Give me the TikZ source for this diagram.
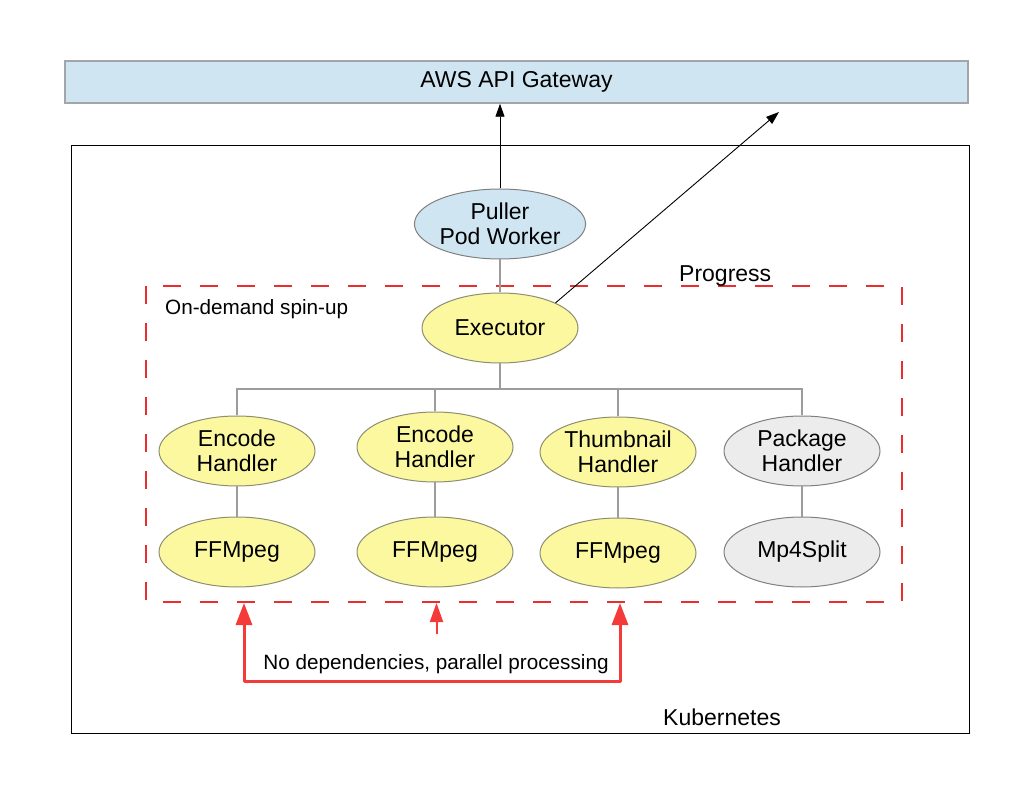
\documentclass[tikz,border=0pt]{standalone}
\usepackage{fontspec}
\setmainfont{Liberation Sans}
\usetikzlibrary{arrows.meta,shapes.geometric}
\definecolor{gwblue}{HTML}{CFE5F2}
\definecolor{gwborder}{HTML}{A2A6AA}
\definecolor{hyellow}{HTML}{FCF8A0}
\definecolor{hgray}{HTML}{ECECEC}
\definecolor{eborder}{HTML}{8E8E70}
\definecolor{linegray}{HTML}{9C9C9C}
\definecolor{dred}{HTML}{E82E2E}
\definecolor{ared}{HTML}{F53A3A}
\tikzset{
  bigtxt/.style={font=\fontsize{23}{25}\selectfont},
  smalltxt/.style={font=\fontsize{20.7}{24}\selectfont},
  proc/.style={ellipse, draw=eborder, line width=1pt, fill=hyellow,
    minimum width=156pt, minimum height=70pt, inner sep=0pt, align=center, bigtxt},
  procgray/.style={proc, fill=hgray, draw=gray},
  procblue/.style={proc, fill=gwblue, draw=gray},
  tree/.style={draw=linegray, line width=1.1pt},
  blackarrow/.style={draw=black, line width=0.9pt, -{Triangle[length=13pt,width=9pt]}},
  redarrow/.style={draw=ared, line width=3pt, line join=round,
    {Triangle[length=22pt,width=16pt]}-{Triangle[length=22pt,width=16pt]}},
  redsmall/.style={draw=ared, line width=2pt, -{Triangle[length=19pt,width=13pt]}}
}
\begin{document}
\begin{tikzpicture}[x=1pt,y=-1pt]
\useasboundingbox (0,0) rectangle (1034,799);
\fill[white] (0,0) rectangle (1034,799);
% gateway
\node[draw=gwborder, line width=1.5pt, fill=gwblue, minimum width=903pt, minimum height=42pt,
  inner sep=0pt, bigtxt] (gw) at (516.5,82) {AWS API Gateway};
% kubernetes box
\draw[black, line width=1pt] (71,146) rectangle (969,733);
\node[bigtxt, anchor=base west, inner sep=0pt] (k8s) at (663,725.5) {Kubernetes};
% dashed on-demand box
\draw[dred, line width=1.2pt, dash pattern=on 18pt off 19pt] (146,286) rectangle (902,602);
\node[smalltxt, anchor=base west, inner sep=0pt] (ondemand) at (165,315) {On-demand spin-up};
% nodes
\node[procblue] (puller) at (500,224) {Puller\\Pod Worker};
\node[proc] (exec) at (500,328) {Executor};
\node[bigtxt, anchor=base west, inner sep=0pt] (progress) at (679,281.5) {Progress};
\node[proc] (h1) at (237,451) {Encode\\Handler};
\node[proc] (h2) at (435,447) {Encode\\Handler};
\node[proc] (h3) at (618,452) {Thumbnail\\Handler};
\node[procgray] (h4) at (802,451) {Package\\Handler};
\node[proc] (f1) at (237,552) {FFMpeg};
\node[proc] (f2) at (435,552) {FFMpeg};
\node[proc] (f3) at (618,553) {FFMpeg};
\node[procgray] (f4) at (802,552) {Mp4Split};
% connectors
\draw[blackarrow] (puller.north) -- (puller.north |- gw.south);
\coordinate (pend) at (779,112);
\draw[blackarrow] (exec.north east) -- (pend);
\draw[tree] (puller) -- (exec);
\coordinate (bus) at (500,389);
\draw[tree] (exec.south) -- (bus);
\draw[tree] (h1.north) |- (bus);
\draw[tree] (h2.north) |- (bus);
\draw[tree] (h3.north) |- (bus);
\draw[tree] (h4.north) |- (bus);
\draw[tree] (h1) -- (f1);
\draw[tree] (h2) -- (f2);
\draw[tree] (h3) -- (f3);
\draw[tree] (h4) -- (f4);
% red arrows
\coordinate (ra) at (244,603);
\coordinate (rb) at (620,603);
\coordinate (rm) at (436.5,603);
\coordinate (rms) at (436.5,634);
\draw[redarrow] (ra) -- (244,681) -- (620,681) -- (rb);
\draw[redsmall] (rms) -- (rm);
\node[smalltxt, anchor=base, inner sep=0pt] (nodep) at (436,669) {No dependencies, parallel processing};
\end{tikzpicture}
\end{document}
